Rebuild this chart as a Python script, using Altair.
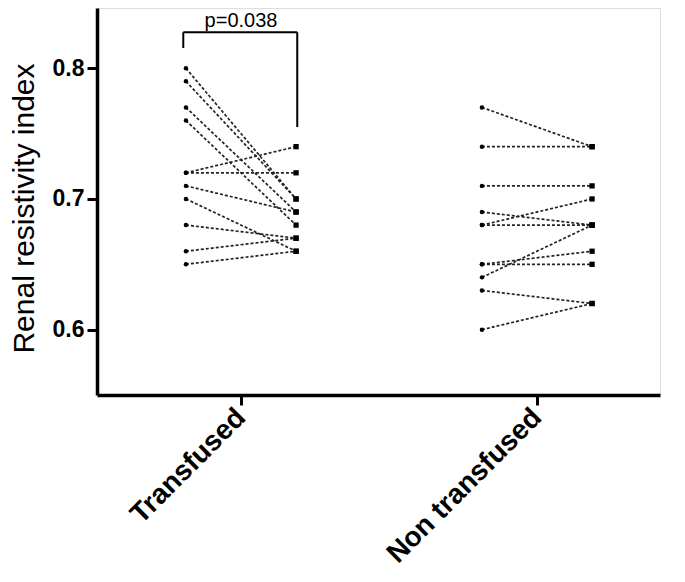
import altair as alt
import pandas as pd

groups = ["Transfused", "Non transfused"]
transfused_before = [0.80, 0.79, 0.77, 0.76, 0.72, 0.72, 0.71, 0.70, 0.68, 0.66, 0.65]
transfused_after = [0.70, 0.70, 0.69, 0.68, 0.74, 0.72, 0.69, 0.66, 0.67, 0.67, 0.66]
non_before = [0.77, 0.74, 0.71, 0.69, 0.68, 0.68, 0.65, 0.65, 0.64, 0.63, 0.60]
non_after = [0.74, 0.74, 0.71, 0.68, 0.70, 0.68, 0.66, 0.65, 0.68, 0.62, 0.62]
p_label = "p=0.038"

OFF = 0.186
rows = []
pid = 0
for gi, (bef, aft) in enumerate([(transfused_before, transfused_after), (non_before, non_after)]):
    for b, a in zip(bef, aft):
        rows.append({"pair": pid, "time": "before", "x": gi - OFF, "y": b})
        rows.append({"pair": pid, "time": "after", "x": gi + OFF, "y": a})
        pid += 1
df = pd.DataFrame(rows)

xs = alt.Scale(domain=[-0.4865, 1.4155], nice=False, zero=False)
ys = alt.Scale(domain=[0.55, 0.8461], nice=False, zero=False)

xaxis = alt.Axis(
    values=[0, 1],
    labelExpr="datum.value == 0 ? 'Transfused' : 'Non transfused'",
    labelAngle=-45, labelAlign="right", labelBaseline="middle",
    labelFont="Liberation Sans", labelFontWeight="bold", labelFontSize=28,
    labelColor="black", labelPadding=8, labelLimit=0,
    tickSize=10, tickWidth=3, tickColor="black",
    domainWidth=3.5, domainColor="black", grid=False, title=None,
)
yaxis = alt.Axis(
    values=[0.6, 0.7, 0.8], format=".1f",
    labelFont="Liberation Sans", labelFontWeight="bold", labelFontSize=23,
    labelColor="black", labelPadding=3,
    tickSize=10, tickWidth=3, tickColor="black",
    domainWidth=3.5, domainColor="black", grid=False,
    title="Renal resistivity index",
    titleFont="Liberation Sans", titleFontWeight="normal", titleFontSize=30,
    titleColor="black", titlePadding=13, titleY=200,
)

base = alt.Chart(df)
lines = base.mark_line(strokeDash=[3, 2], color="#222222", strokeWidth=1.7).encode(
    x=alt.X("x:Q", scale=xs, axis=xaxis),
    y=alt.Y("y:Q", scale=ys, axis=yaxis),
    detail="pair:N",
    order="x:Q",
)
pts_before = base.transform_filter("datum.time == 'before'").mark_point(
    shape="circle", filled=True, color="black", size=20, opacity=1
).encode(x=alt.X("x:Q", scale=xs), y=alt.Y("y:Q", scale=ys))
pts_after = base.transform_filter("datum.time == 'after'").mark_point(
    shape="square", filled=True, color="black", size=28, opacity=1
).encode(x=alt.X("x:Q", scale=xs), y=alt.Y("y:Q", scale=ys))

bracket = pd.DataFrame([
    {"x": -0.195, "x2": 0.19, "y": 0.8275, "y2": 0.8275},
    {"x": -0.195, "x2": -0.195, "y": 0.8275, "y2": 0.8155},
    {"x": 0.19, "x2": 0.19, "y": 0.8275, "y2": 0.755},
])
br = alt.Chart(bracket).mark_rule(color="black", strokeWidth=2).encode(
    x=alt.X("x:Q", scale=xs), x2="x2:Q",
    y=alt.Y("y:Q", scale=ys), y2="y2:Q",
)
ptxt = alt.Chart(pd.DataFrame([{"x": 0.0, "y": 0.8318, "t": p_label}])).mark_text(
    font="Liberation Sans", fontSize=20, color="black", baseline="alphabetic", align="center"
).encode(x=alt.X("x:Q", scale=xs), y=alt.Y("y:Q", scale=ys), text="t:N")

chart = alt.layer(lines, pts_before, pts_after, br, ptxt).properties(
    width=563, height=387,
    padding={"left": 89, "top": 0, "right": 17, "bottom": 179},
    autosize=alt.AutoSizeParams(type="none"),
).configure_view(stroke=None).configure(background="white")

chart.save("out.html", embed_options={"renderer": "svg", "actions": False})
